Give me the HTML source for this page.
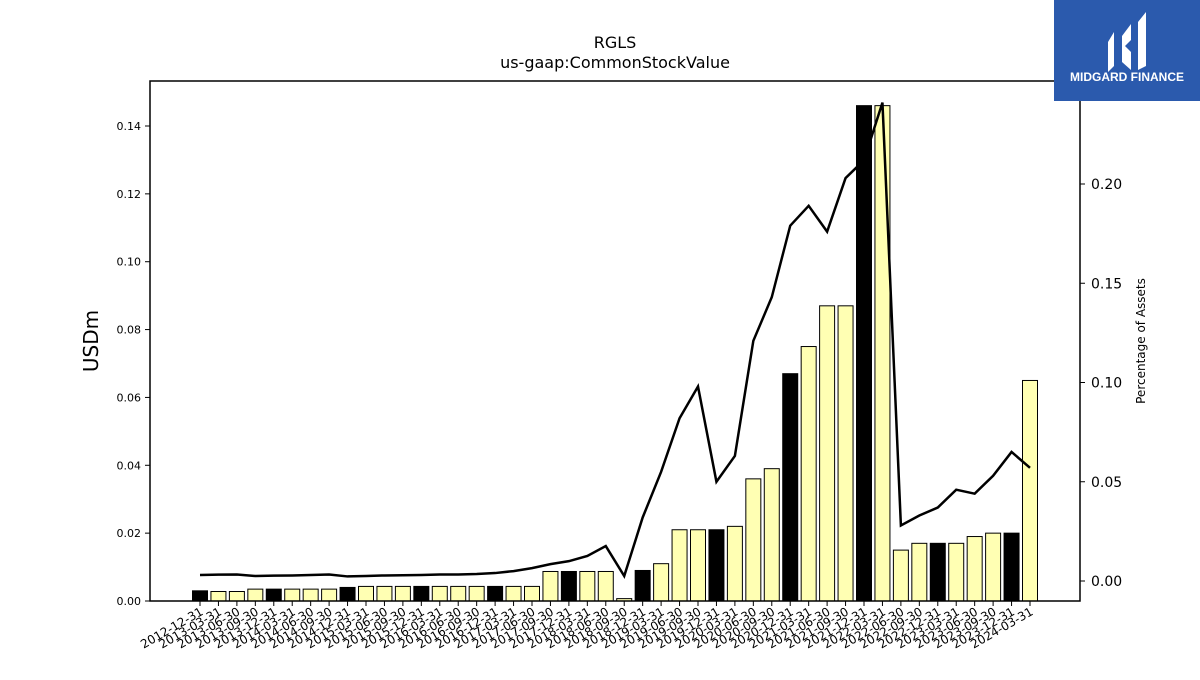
<!DOCTYPE html>
<html><head><meta charset="utf-8"><style>
body{margin:0;background:#fff;}
svg text{font-family:"DejaVu Sans","Liberation Sans",sans-serif;}
</style></head><body>
<svg id="chart" width="1200" height="675" xmlns="http://www.w3.org/2000/svg">
<rect width="1200" height="675" fill="#fff"/>
<text x="615" y="48" font-size="16" text-anchor="middle">RGLS</text>
<text x="615" y="68" font-size="16" text-anchor="middle">us-gaap:CommonStockValue</text>
<text transform="translate(98,341) rotate(-90)" font-size="20" text-anchor="middle">USDm</text>
<text transform="translate(1145,341) rotate(-90)" font-size="12" text-anchor="middle">Percentage of Assets</text>
<g id="bars"></g><g id="xt"></g><g id="yt"></g><g id="y2t"></g>
<path id="line" fill="none" stroke="#000" stroke-width="2.5"/>
<rect x="150" y="81" width="930" height="520" fill="none" stroke="#000" stroke-width="1.5"/>
<g>
<rect x="1054" y="0" width="146" height="101" fill="#2b5aad"/>
<path d="M1108 42 L1114 32 L1114 66 L1108 72 Z M1122 36 L1131 24 L1131 40 L1125 46 L1131 52 L1131 70 L1122 62 Z M1138 22 L1146 12 L1146 66 L1138 70 Z" fill="#fff"/>
<text x="1127" y="81" font-size="12" font-weight="bold" fill="#fff" text-anchor="middle" style="font-family:'Liberation Sans',sans-serif">MIDGARD FINANCE</text>
</g>
</svg>
<script>
const categories=["2012-12-31","2013-03-31","2013-06-30","2013-09-30","2013-12-31","2014-03-31","2014-06-30","2014-09-30","2014-12-31","2015-03-31","2015-06-30","2015-09-30","2015-12-31","2016-03-31","2016-06-30","2016-09-30","2016-12-31","2017-03-31","2017-06-30","2017-09-30","2017-12-31","2018-03-31","2018-06-30","2018-09-30","2018-12-31","2019-03-31","2019-06-30","2019-09-30","2019-12-31","2020-03-31","2020-06-30","2020-09-30","2020-12-31","2021-03-31","2021-06-30","2021-09-30","2021-12-31","2022-03-31","2022-06-30","2022-09-30","2022-12-31","2023-03-31","2023-06-30","2023-09-30","2023-12-31","2024-03-31"];
const values=[0.003,0.0028,0.0028,0.0035,0.0035,0.0035,0.0035,0.0035,0.004,0.0043,0.0043,0.0043,0.0043,0.0043,0.0043,0.0043,0.0043,0.0043,0.0043,0.0087,0.0087,0.0087,0.0087,0.0007,0.009,0.011,0.021,0.021,0.021,0.022,0.036,0.039,0.067,0.075,0.087,0.087,0.146,0.146,0.015,0.017,0.017,0.017,0.019,0.020,0.020,0.065];
const pct=[0.003,0.0032,0.0033,0.0025,0.0027,0.0028,0.003,0.0033,0.0023,0.0025,0.0028,0.0029,0.003,0.0033,0.0033,0.0035,0.004,0.005,0.0065,0.0085,0.010,0.0126,0.0176,0.0025,0.032,0.055,0.082,0.098,0.050,0.063,0.121,0.143,0.179,0.189,0.176,0.203,0.212,0.241,0.028,0.033,0.037,0.046,0.044,0.053,0.065,0.057];
const yTicks=[0,0.02,0.04,0.06,0.08,0.10,0.12,0.14];
const y2Ticks=[0,0.05,0.10,0.15,0.20];
const NS="http://www.w3.org/2000/svg";
const x=i=>200+i*(830/45);
const y=v=>601-v*(475/0.14);
const y2=v=>581-v*(397/0.20);
function mk(t,a,p){const e=document.createElementNS(NS,t);for(const k in a)e.setAttribute(k,a[k]);p.appendChild(e);return e;}
const bars=document.getElementById('bars'),xt=document.getElementById('xt'),yt=document.getElementById('yt'),y2t=document.getElementById('y2t');
categories.forEach((c,i)=>{
 const q4=c.endsWith('12-31');
 const r=mk('rect',{x:x(i)-7.5,y:y(values[i]),width:15,height:601-y(values[i]),fill:q4?'#000':'#ffffb3',stroke:'#000','stroke-width':1},bars);
 
 
 mk('line',{x1:x(i),x2:x(i),y1:601,y2:606,stroke:'#000'},xt);
 const t=mk('text',{transform:`translate(${x(i)+4},${614}) rotate(-30)`,'font-size':12,'text-anchor':'end',fill:'#000'},xt);
 
 
 t.textContent=c;
});
yTicks.forEach(v=>{
 mk('line',{x1:145,x2:150,y1:y(v),y2:y(v),stroke:'#000'},yt);
 const t=mk('text',{x:141,y:y(v)+4,'font-size':11,'text-anchor':'end'},yt);
 
 
 t.textContent=v.toFixed(2);
});
y2Ticks.forEach(v=>{
 mk('line',{x1:1080,x2:1085,y1:y2(v),y2:y2(v),stroke:'#000'},y2t);
 const t=mk('text',{x:1091,y:y2(v)+5,'font-size':14},y2t);
 
 
 t.textContent=v.toFixed(2);
});
document.getElementById('line').setAttribute('d',pct.map((v,i)=>(i?'L':'M')+x(i)+' '+y2(v)).join(' '));
</script>
</body></html>
